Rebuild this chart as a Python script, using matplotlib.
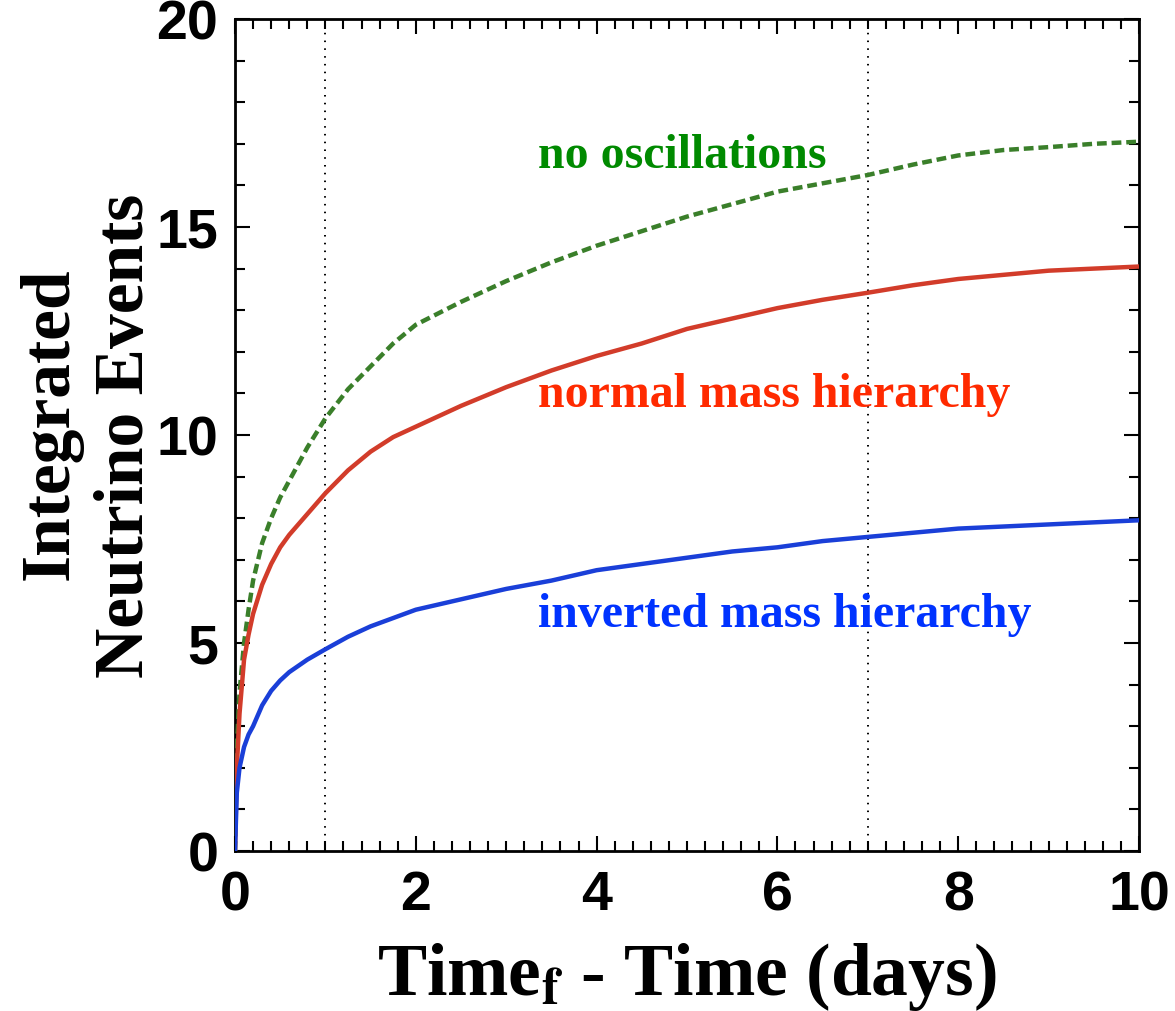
import matplotlib
matplotlib.use("Agg")
import matplotlib.pyplot as plt
from matplotlib.ticker import MultipleLocator

# Integrated events vs time before the end (days)
days = [0, 0.02, 0.05, 0.1, 0.15, 0.2, 0.3, 0.4, 0.5, 0.6, 0.8, 1.0, 1.25, 1.5,
        1.75, 2.0, 2.5, 3.0, 3.5, 4.0, 4.5, 5.0, 5.5, 6.0, 6.5, 7.0, 7.5, 8.0,
        8.5, 9.0, 9.5, 10.0]
no_osc = [0, 2.5, 3.8, 5.0, 5.8, 6.5, 7.4, 8.0, 8.5, 8.9, 9.7, 10.4, 11.1, 11.65,
          12.2, 12.65, 13.2, 13.7, 14.15, 14.55, 14.9, 15.25, 15.55, 15.85, 16.05,
          16.25, 16.5, 16.72, 16.85, 16.92, 17.0, 17.05]
normal = [0, 2.0, 3.3, 4.6, 5.2, 5.7, 6.4, 6.9, 7.3, 7.6, 8.1, 8.6, 9.15, 9.6,
          9.95, 10.2, 10.7, 11.15, 11.55, 11.9, 12.2, 12.55, 12.8, 13.05, 13.25,
          13.42, 13.6, 13.75, 13.85, 13.95, 14.0, 14.05]
inverted = [0, 1.4, 2.0, 2.5, 2.8, 3.0, 3.5, 3.85, 4.1, 4.3, 4.6, 4.85, 5.15, 5.4,
            5.6, 5.8, 6.05, 6.3, 6.5, 6.75, 6.9, 7.05, 7.2, 7.3, 7.45, 7.55, 7.65,
            7.75, 7.8, 7.85, 7.9, 7.95]
marker_days = [1, 7]
labels = ["no oscillations", "normal mass hierarchy", "inverted mass hierarchy"]
label_y = [16.44, 10.7, 5.41]

SERIF = ["Liberation Serif", "DejaVu Serif"]
SANS = ["Liberation Sans", "DejaVu Sans"]
plt.rcParams["mathtext.fontset"] = "stix"

W, H = 1175, 1012
fig = plt.figure(figsize=(W / 100, H / 100), dpi=100)
ax = fig.add_axes([235 / W, 1 - 852 / H, (1139 - 235) / W, (852 - 20) / H])

for d in marker_days:
    ax.axvline(d, color="black", lw=1.4, linestyle=(0, (0.8, 3.2)), zorder=1)

ax.plot(days, no_osc, color="#3a7f2a", lw=3.2, linestyle=(0, (2.2, 1.1)), zorder=3)
ax.plot(days, normal, color="#d23c2a", lw=3.2, zorder=3)
ax.plot(days, inverted, color="#1a3fd8", lw=3.2, zorder=3)

text_colors = ["#008a00", "#ff2a00", "#0033ff"]
for lab, yv, c in zip(labels, label_y, text_colors):
    ax.text(3.35, yv, lab, color=c, fontsize=34.5, fontweight="bold",
            family=SERIF, ha="left", va="baseline")

ax.set_xlim(0, 10)
ax.set_ylim(0, 20)
ax.xaxis.set_major_locator(MultipleLocator(2))
ax.xaxis.set_minor_locator(MultipleLocator(0.2))
ax.yaxis.set_major_locator(MultipleLocator(5))
ax.yaxis.set_minor_locator(MultipleLocator(1))
ax.tick_params(which="both", direction="in", top=True, right=True, width=1.5)
ax.tick_params(which="major", length=11)
ax.tick_params(which="minor", length=7)
ax.tick_params(axis="x", which="major", pad=13)
ax.tick_params(axis="y", which="major", pad=12)
for lab in ax.get_xticklabels() + ax.get_yticklabels():
    lab.set_family(SANS)
    lab.set_fontweight("bold")
    lab.set_fontsize(40)
for s in ax.spines.values():
    s.set_linewidth(2)

# axis titles placed by hand, ROOT style
fig.text(377 / W, 1 - 995 / H, r"Time$_{\mathbf{f}}$ - Time (days)", fontsize=53,
         fontweight="bold", family=SERIF, ha="left", va="baseline")
fig.text(68 / W, 1 - 424 / H, "Integrated", fontsize=50, fontweight="bold",
         family=SERIF, ha="center", va="baseline", rotation=90,
         rotation_mode="anchor")
fig.text(143 / W, 1 - 436 / H, "Neutrino Events", fontsize=50, fontweight="bold",
         family=SERIF, ha="center", va="baseline", rotation=90,
         rotation_mode="anchor")

fig.savefig("out.png", dpi=100)
